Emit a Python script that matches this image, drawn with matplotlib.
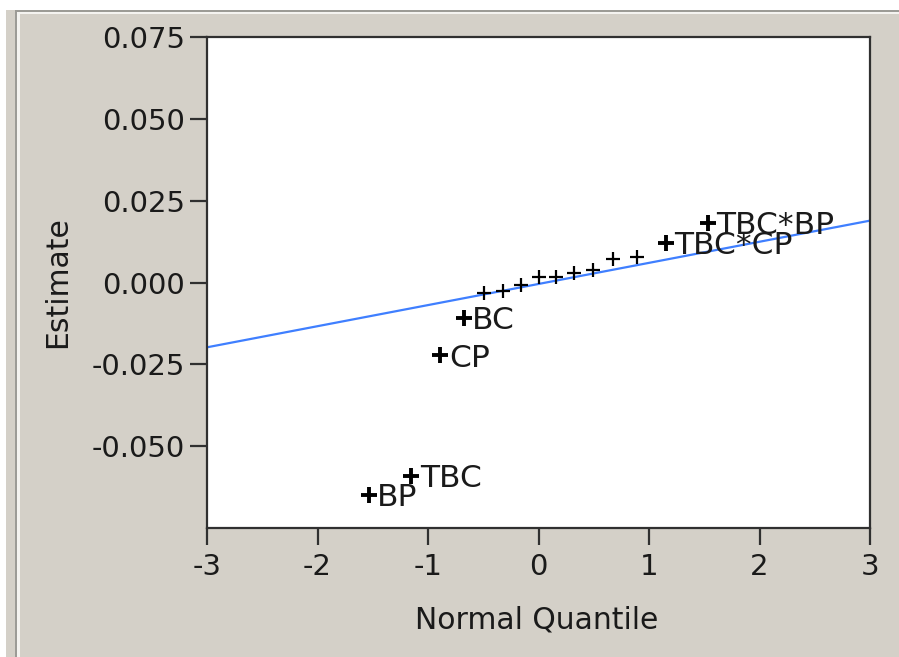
import matplotlib
matplotlib.use('Agg')
import matplotlib.pyplot as plt
from matplotlib.patches import Rectangle

# ---- data ----
terms = ['BP', 'TBC', 'CP', 'BC', '', '', '', '', '', '', '', '', '', 'TBC*CP', 'TBC*BP']
quantiles = [-1.534, -1.150, -0.887, -0.674, -0.489, -0.319, -0.157, 0.0,
             0.157, 0.319, 0.489, 0.674, 0.887, 1.150, 1.534]
estimates = [-0.0649, -0.0591, -0.0223, -0.0107, -0.0032, -0.0027, -0.0009, 0.0016,
             0.0018, 0.0030, 0.0037, 0.0073, 0.0079, 0.0121, 0.0182]
line_x = [-3, 3]
line_y = [-0.0198, 0.0189]
xticks = [-3, -2, -1, 0, 1, 2, 3]
yticks = [-0.05, -0.025, 0.0, 0.025, 0.05, 0.075]
ytick_labels = ['-0.050', '-0.025', '0.000', '0.025', '0.050', '0.075']

plt.rcParams['axes.unicode_minus'] = False
plt.rcParams['font.family'] = ['DejaVu Sans']

W, H = 899, 657
fig = plt.figure(figsize=(W / 100, H / 100), dpi=100, facecolor='white')

def px_rect(x0, y0, x1, y1, color):
    fig.patches.append(Rectangle((x0 / W, 1 - y1 / H), (x1 - x0) / W, (y1 - y0) / H,
                                 transform=fig.transFigure, facecolor=color,
                                 edgecolor='none', zorder=-10))

bg = '#D4D0C8'
px_rect(6, 10, W, H, bg)
px_rect(15, 10, W, 12, '#9c9b96')
px_rect(17, 12, W, 14, '#f4f3f0')
px_rect(15, 10, 17, H, '#9c9b96')
px_rect(17, 12, 20, H, '#f4f3f0')

ax = fig.add_axes([207 / W, 1 - 528 / H, 663 / W, 491 / H])
ax.set_facecolor('white')

ax.plot(line_x, line_y, color='#3f7fff', lw=1.6, zorder=2)

txt_color = '#1a1a1a'
for q, e, t in zip(quantiles, estimates, terms):
    if t:
        ax.plot(q, e, marker='+', color='black', ms=11, mew=2.8, ls='none', zorder=3)
        ax.annotate(t, (q, e), xytext=(6, -2), textcoords='offset points',
                    ha='left', va='center', fontsize=22.5, color=txt_color, zorder=4)
    else:
        ax.plot(q, e, marker='+', color='black', ms=9.5, mew=1.6, ls='none', zorder=3)

ax.set_xlim(-3, 3)
ax.set_ylim(-0.075, 0.075)
ax.set_xticks(xticks)
ax.set_xticklabels([str(v) for v in xticks])
ax.set_yticks(yticks)
ax.set_yticklabels(ytick_labels)

for s in ax.spines.values():
    s.set_color('#303030')
    s.set_linewidth(1.6)

ax.tick_params(axis='both', direction='out', length=12, width=1.6, color='#303030',
               labelsize=21, labelcolor=txt_color)
ax.tick_params(axis='y', pad=4)
ax.tick_params(axis='x', pad=6)

ax.set_xlabel('Normal Quantile', fontsize=21.5, color=txt_color)
ax.set_ylabel('Estimate', fontsize=21.5, color=txt_color)
ax.xaxis.set_label_coords(0.498, -0.187)
ax.yaxis.set_label_coords(-0.226, 0.5)
ax.xaxis.label.set_va('center')
ax.yaxis.label.set_va('center')

fig.savefig('out.png', dpi=100, facecolor=fig.get_facecolor())
